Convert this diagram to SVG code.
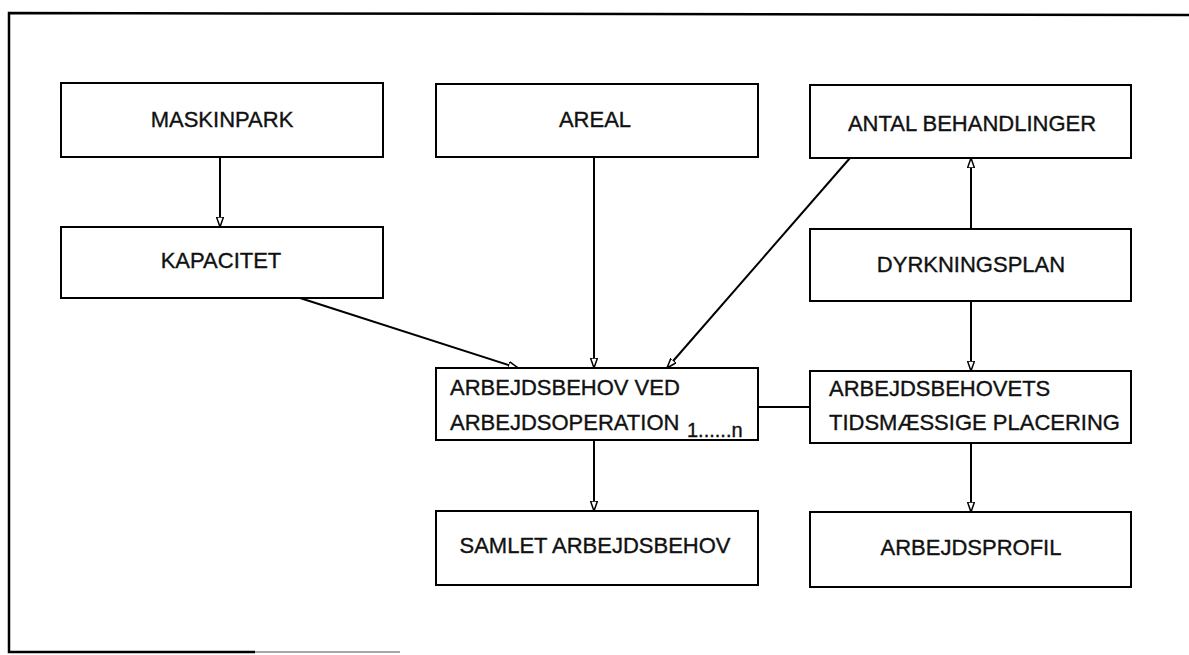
<svg xmlns="http://www.w3.org/2000/svg" width="1189" height="655" viewBox="0 0 1189 655">
<style>
.box{fill:#fff;stroke:#000;stroke-width:2}
.t{font-family:"Liberation Sans",Arial,sans-serif;font-size:22px;fill:#111;stroke:#111;stroke-width:0.35}
.c{text-anchor:middle}
.ln{stroke:#000;stroke-width:2;fill:none}
.sub{font-family:"Liberation Sans",Arial,sans-serif;font-size:20px;fill:#111}
</style>
<defs>
<marker id="ah" viewBox="0 0 10 8" refX="10" refY="4" markerWidth="10" markerHeight="8" markerUnits="userSpaceOnUse" orient="auto">
<path d="M0,0.5 L10,4 L0,7.5 Z" fill="#fff" stroke="#000" stroke-width="1.5"/>
</marker>
</defs>
<rect width="1189" height="655" fill="#fff"/>
<g id="frame">
<path d="M1189,15 L9,13 L9,652 L255,652" fill="none" stroke="#000" stroke-width="2.5"/>
<path d="M255,652 L400,652" fill="none" stroke="#888" stroke-width="1.5"/>
</g>
<g id="connectors">
<line class="ln" x1="220" y1="157" x2="220" y2="227" marker-end="url(#ah)"/>
<line class="ln" x1="594" y1="157" x2="594" y2="368" marker-end="url(#ah)"/>
<line class="ln" x1="300" y1="298" x2="518" y2="368" marker-end="url(#ah)"/>
<line class="ln" x1="850" y1="158" x2="667" y2="368" marker-end="url(#ah)"/>
<line class="ln" x1="971" y1="229" x2="971" y2="158" marker-end="url(#ah)"/>
<line class="ln" x1="971" y1="301" x2="971" y2="371" marker-end="url(#ah)"/>
<line class="ln" x1="594" y1="440" x2="594" y2="511" marker-end="url(#ah)"/>
<line class="ln" x1="971" y1="443" x2="971" y2="512" marker-end="url(#ah)"/>
<line class="ln" x1="758" y1="407" x2="810" y2="407"/>
</g>
<g id="maskinpark">
<rect class="box" x="61" y="83" width="322" height="74"/>
<text class="t c" x="222" y="127">MASKINPARK</text>
</g>
<g id="areal">
<rect class="box" x="436" y="84" width="322" height="73"/>
<text class="t c" x="595" y="127">AREAL</text>
</g>
<g id="antal">
<rect class="box" x="810" y="85" width="321" height="73"/>
<text class="t c" x="972" y="131">ANTAL BEHANDLINGER</text>
</g>
<g id="kapacitet">
<rect class="box" x="61" y="227" width="322" height="71"/>
<text class="t c" x="221" y="268">KAPACITET</text>
</g>
<g id="dyrkningsplan">
<rect class="box" x="810" y="229" width="321" height="72"/>
<text class="t c" x="971" y="272">DYRKNINGSPLAN</text>
</g>
<g id="arbejdsbehov">
<rect class="box" x="436" y="368" width="322" height="72"/>
<text class="t" x="450" y="395">ARBEJDSBEHOV VED</text>
<text class="t" x="450" y="430">ARBEJDSOPERATION <tspan class="sub" x="687" y="437">1......n</tspan></text>
</g>
<g id="tidsplacering">
<rect class="box" x="810" y="371" width="321" height="72"/>
<text class="t" x="829" y="396">ARBEJDSBEHOVETS</text>
<text class="t" x="829" y="430">TIDSMÆSSIGE PLACERING</text>
</g>
<g id="samlet">
<rect class="box" x="436" y="511" width="322" height="74"/>
<text class="t c" x="595" y="553">SAMLET ARBEJDSBEHOV</text>
</g>
<g id="arbejdsprofil">
<rect class="box" x="810" y="512" width="321" height="75"/>
<text class="t c" x="971" y="555">ARBEJDSPROFIL</text>
</g>
</svg>
